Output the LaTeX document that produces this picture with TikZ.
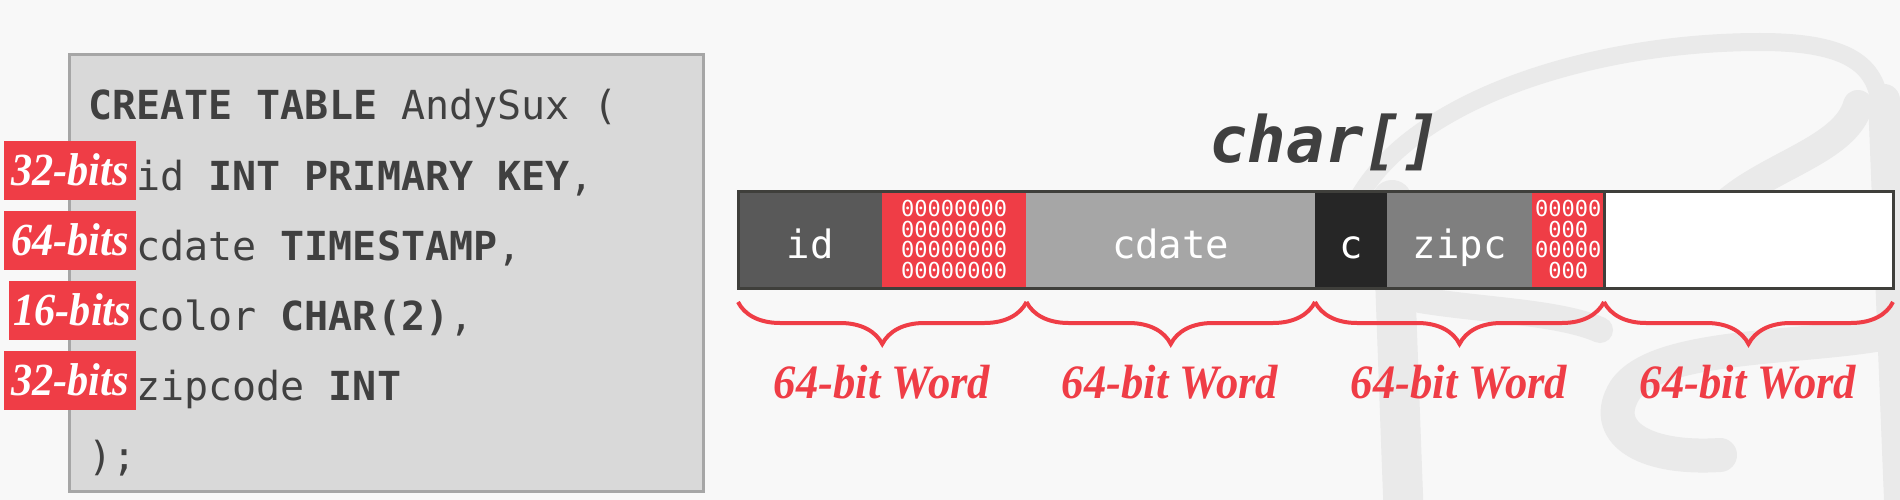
\documentclass[tikz,border=0pt]{standalone}
\usepackage{fontspec}
\usepackage{graphicx}
\setmainfont{Liberation Serif}
\newfontfamily\monof{DejaVu Sans Mono}
\usetikzlibrary{decorations.pathreplacing}
\definecolor{sred}{HTML}{EF3D46}
\definecolor{codegray}{HTML}{404040}
\definecolor{boxfill}{HTML}{D9D9D9}
\definecolor{boxline}{HTML}{A6A6A6}
\definecolor{bg}{HTML}{F8F8F8}
\definecolor{wm}{HTML}{EAEAEA}
\definecolor{cid}{HTML}{595959}
\definecolor{ccdate}{HTML}{A6A6A6}
\definecolor{cc}{HTML}{262626}
\definecolor{czip}{HTML}{7F7F7F}
\definecolor{barline}{HTML}{3F3F3B}
\begin{document}
\begin{tikzpicture}[x=1pt,y=-1pt,
  codeline/.style={anchor=base west, inner sep=0pt, text=codegray, font=\monof\fontsize{40}{48}\selectfont},
  bitlabel/.style={fill=sred, text=white, inner sep=0pt, minimum height=59pt, text height=30pt, text depth=0pt, anchor=east, font=\fontsize{46}{46}\selectfont\bfseries\itshape},
  cell/.style={anchor=north west, inner sep=0pt, minimum height=97pt, text height=38pt, text depth=0pt, text=white, font=\monof\fontsize{39}{46}\selectfont},
  padcell/.style={anchor=north west, inner sep=0pt, minimum height=97pt, fill=sred, align=center, text=white, font=\monof\fontsize{22}{20.5}\selectfont},
  wordbrace/.style={draw=sred, line width=4pt, decorate, decoration={brace, mirror, amplitude=42pt}},
  wordlabel/.style={text=sred, inner sep=0pt, anchor=base, font=\fontsize{48}{48}\selectfont\bfseries\itshape},
  wmark/.style={draw=wm, line cap=round},
  wfill/.style={fill=wm}
]
\useasboundingbox (0,0) rectangle (1900,500);
\fill[bg] (0,0) rectangle (1900,500);

% faint watermark logo
\draw[wmark, line width=18pt] (1360,195) .. controls (1420,95) and (1600,42) .. (1760,42)
  .. controls (1850,42) and (1876,66) .. (1880,105);
\draw[wmark, line width=32pt] (1884,100) -- (1900,500);
\draw[wmark, line width=30pt] (1858,105) .. controls (1845,150) and (1770,165) .. (1725,205);
\draw[wmark, line width=40pt] (1392,200) .. controls (1396,300) and (1400,420) .. (1404,520);
\draw[wmark, line width=34pt] (1900,330) .. controls (1820,350) and (1660,340) .. (1625,390)
  .. controls (1600,430) and (1640,460) .. (1720,455);
\draw[wmark, line width=26pt] (1420,300) .. controls (1480,310) and (1560,312) .. (1600,330);

% code box
\node[draw=boxline, fill=boxfill, line width=3pt, anchor=north west, inner sep=0pt,
  minimum width=634pt, minimum height=437pt] (codebox) at (67.5,53) {};
\node[codeline] (l1) at (88,120) {\bfseries CREATE TABLE\mdseries{} AndySux (};
\node[codeline] (l2) at (136,190) {id \bfseries INT PRIMARY KEY\mdseries,};
\node[codeline] (l3) at (136,260) {cdate \bfseries TIMESTAMP\mdseries,};
\node[codeline] (l4) at (136,330) {color \bfseries CHAR(2)\mdseries,};
\node[codeline] (l5) at (136,400) {zipcode \bfseries INT};
\node[codeline] (l6) at (88,470) {);};

% bit labels
\node[bitlabel, minimum width=132pt] (b1) at (136,170.5) {\scalebox{0.92}[1]{32-bits}};
\node[bitlabel, minimum width=132pt] (b2) at (136,240.5) {\scalebox{0.92}[1]{64-bits}};
\node[bitlabel, minimum width=127pt] (b3) at (136,310.5) {\scalebox{0.92}[1]{16-bits}};
\node[bitlabel, minimum width=132pt] (b4) at (136,380.5) {\scalebox{0.92}[1]{32-bits}};

% title
\node[text=codegray, inner sep=0pt, font=\monof\fontsize{64}{70}\selectfont\bfseries\itshape] (title) at (1325,142) {char[]};

% array cells
\node[cell, fill=cid, minimum width=144pt] (cid) at (738,191) {id};
\node[padcell, minimum width=144pt] (pad1) at (882,191) {00000000\\00000000\\00000000\\00000000};
\node[cell, fill=ccdate, minimum width=289pt] (ccdate) at (1026,191) {cdate};
\node[cell, fill=cc, minimum width=72pt] (cc) at (1315,191) {c};
\node[cell, fill=czip, minimum width=145pt] (czip) at (1387,191) {zipc};
\node[padcell, minimum width=72pt] (pad2) at (1532,191) {00000\\000\\00000\\000};
\node[cell, fill=white, minimum width=289pt] (cfree) at (1604,191) {};
\draw[barline, line width=3pt] (cid.north west) rectangle (cfree.south east);
\draw[barline, line width=3pt] (cfree.north west) -- (cfree.south west);

% word braces
\coordinate (w0) at (738,302);
\coordinate (w1) at (1026.5,302);
\coordinate (w2) at (1315,302);
\coordinate (w3) at (1604,302);
\coordinate (w4) at (1893,302);
\draw[wordbrace] (w0) -- (w1);
\draw[wordbrace] (w1) -- (w2);
\draw[wordbrace] (w2) -- (w3);
\draw[wordbrace] (w3) -- (w4);

\node[wordlabel] (t1) at (882,398) {\scalebox{0.93}[1]{64-bit Word}};
\node[wordlabel] (t2) at (1170,398) {\scalebox{0.93}[1]{64-bit Word}};
\node[wordlabel] (t3) at (1459,398) {\scalebox{0.93}[1]{64-bit Word}};
\node[wordlabel] (t4) at (1748,398) {\scalebox{0.93}[1]{64-bit Word}};
\end{tikzpicture}
\end{document}
